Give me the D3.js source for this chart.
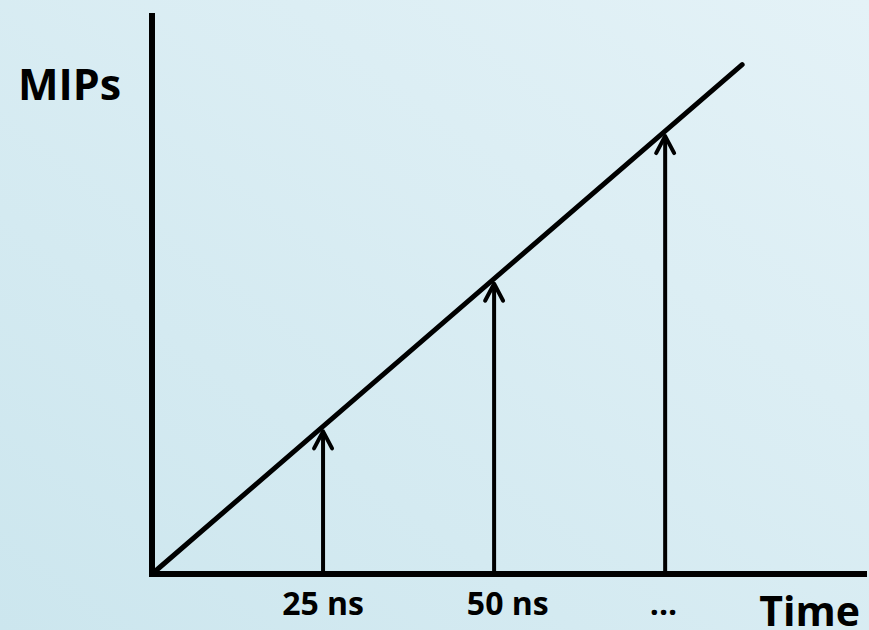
<!DOCTYPE html>
<html>
<head>
<meta charset="utf-8">
<script src="https://cdn.jsdelivr.net/npm/d3@7"></script>
<style>
  html, body { margin: 0; padding: 0; }
  body { width: 869px; height: 630px; overflow: hidden; }
</style>
</head>
<body>
<div id="chart"></div>
<script>
// time steps where the MIP count is sampled (one step = 25 ns)
const steps = [1, 2, 3];
const stepLabels = ["25 ns", "50 ns", "..."];
const labelPos = [1.0, 2.08, 2.99];
// MIPs grow linearly with time
const lineTime = [0, 3.45];
const lineMips = [0, 3.45];

const W = 869, H = 630;

const svg = d3.select("#chart").append("svg")
  .attr("width", W)
  .attr("height", H)
  .style("font-family", "'Open Sans', 'DejaVu Sans', sans-serif");

/* background gradient */
const defs = svg.append("defs");
const grad = defs.append("linearGradient")
  .attr("id", "bg")
  .attr("x1", "0%").attr("y1", "100%")
  .attr("x2", "100%").attr("y2", "0%");
grad.append("stop").attr("offset", "0%").attr("stop-color", "#cce6ee");
grad.append("stop").attr("offset", "100%").attr("stop-color", "#e4f2f7");
svg.append("rect").attr("width", W).attr("height", H).attr("fill", "url(#bg)");

/* scales */
const x = d3.scaleLinear().domain([0, 4.18]).range([152, 867]);
const y = d3.scaleLinear().domain([0, 3.8]).range([574, 13]);

/* axes as plain lines */
svg.append("line")
  .attr("x1", x(0)).attr("x2", x(0))
  .attr("y1", y(0) + 3).attr("y2", y(3.8))
  .attr("stroke", "#000").attr("stroke-width", 6);
svg.append("line")
  .attr("x1", x(0) - 3).attr("x2", x(4.18))
  .attr("y1", y(0)).attr("y2", y(0))
  .attr("stroke", "#000").attr("stroke-width", 6);

/* diagonal */
const line = d3.line().x(d => x(d[0])).y(d => y(d[1]));
svg.append("path")
  .attr("d", line(d3.zip(lineTime, lineMips)))
  .attr("fill", "none")
  .attr("stroke", "#000")
  .attr("stroke-width", 5)
  .attr("stroke-linecap", "round");

/* arrows: shaft + open chevron head */
svg.selectAll("line.arrow")
  .data(steps)
  .enter().append("line")
  .attr("class", "arrow")
  .attr("x1", d => x(d)).attr("x2", d => x(d))
  .attr("y1", y(0)).attr("y2", d => y(d) + 6)
  .attr("stroke", "#000")
  .attr("stroke-width", 4);

svg.selectAll("path.head")
  .data(steps)
  .enter().append("path")
  .attr("class", "head")
  .attr("d", d => {
    const cx = x(d), ty = y(d) + 5;
    return `M${cx - 9},${ty + 17} L${cx},${ty} L${cx + 9},${ty + 17}`;
  })
  .attr("fill", "none")
  .attr("stroke", "#000")
  .attr("stroke-width", 4)
  .attr("stroke-linecap", "round")
  .attr("stroke-linejoin", "round");

/* labels */
svg.selectAll("text.step")
  .data(stepLabels)
  .enter().append("text")
  .attr("class", "step")
  .attr("x", (d, i) => x(labelPos[i]))
  .attr("y", 615)
  .attr("text-anchor", "middle")
  .attr("font-size", 32)
  .attr("font-weight", "bold")
  .text(d => d);

svg.append("text")
  .attr("x", 18).attr("y", 100)
  .attr("font-size", 43)
  .attr("font-weight", "bold")
  .text("MIPs");

svg.append("text")
  .attr("x", 860).attr("y", 626)
  .attr("text-anchor", "end")
  .attr("font-size", 41)
  .attr("font-weight", "bold")
  .text("Time");
</script>
</body>
</html>
